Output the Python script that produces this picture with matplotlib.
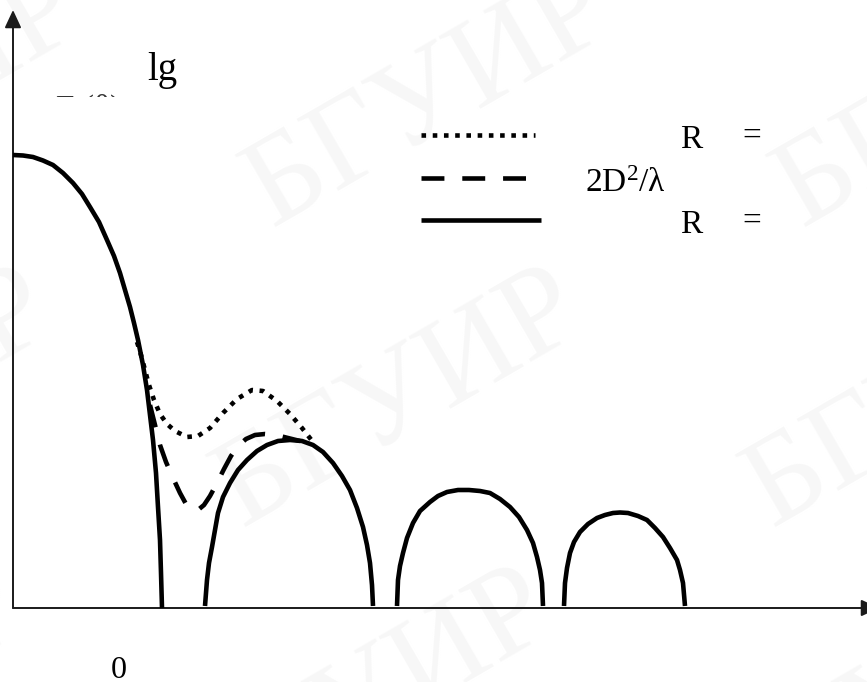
import matplotlib
matplotlib.use("Agg")
import matplotlib.pyplot as plt
from matplotlib.patches import Rectangle

plt.rcParams["font.family"] = ["Liberation Serif", "DejaVu Serif"]
plt.rcParams["mathtext.fontset"] = "custom"
plt.rcParams["mathtext.rm"] = "Liberation Serif"
plt.rcParams["mathtext.it"] = "Liberation Serif:italic"

# Radiation pattern lg F(theta) against theta, arbitrary units.
# Far zone (R = inf): main lobe and three side lobes.
main_theta = [0, 10, 20, 30, 40, 50, 60, 69, 77, 86, 94, 101, 107, 112, 117,
              121, 125, 130, 134, 137, 140, 143, 145, 147, 148, 149]
main_level = [453, 452.5, 451, 447.5, 443, 435, 425, 414, 401, 386, 368, 352,
              335, 318, 301, 285, 268, 243, 218, 193, 168, 135, 101, 68, 35, 0]

lobe1_theta = [192, 194, 196, 199, 202, 205, 210, 217, 225, 234, 244, 254, 265,
               277, 289, 300, 310, 320, 329, 337, 344, 350, 354, 357, 359, 360]
lobe1_level = [2, 28, 45, 61, 78, 95, 111, 125, 138, 148, 157, 163, 167, 168,
               167, 163, 156, 145, 132, 118, 100, 81, 63, 45, 23, 2]

lobe2_theta = [384, 385, 387, 390, 394, 400, 407, 417, 425, 434, 445, 456, 467,
               477, 487, 497, 506, 514, 520, 524, 527, 529, 530]
lobe2_level = [2, 28, 42, 55, 70, 85, 97, 106, 112, 116, 118, 118, 117, 115,
               109, 101, 91, 78, 65, 51, 38, 25, 2]

lobe3_theta = [551, 552, 554, 557, 561, 567, 575, 584, 592, 600, 607, 615, 625,
               634, 642, 650, 657, 664, 667, 670, 672]
lobe3_level = [2, 25, 40, 55, 66, 76, 84, 90, 93, 95, 95.5, 95, 92, 88, 80, 71,
               60, 48, 38, 25, 2]

# Near zone: nulls filled in, first side lobe merged with the main lobe
near_theta = [124, 128, 132, 136, 141, 147, 154, 162, 174, 185, 197, 210, 224,
              239, 250, 264, 277, 289, 300]
near_level = [266, 253, 238, 223, 208, 194, 184, 177, 171, 172, 180, 195, 209,
              218, 217, 207, 194, 180, 166]

# Intermediate zone, R = 2D^2/lambda
mid_theta = [137, 142, 147, 153, 160, 167, 173, 179, 185, 191, 197, 204, 211,
             218, 225, 233, 242, 252, 263, 275, 287]
mid_level = [203, 183, 163, 146, 130, 115, 104, 98, 98, 103, 112, 125, 139,
             152, 162, 169, 173, 174, 173, 170, 167]

legend_rows = ["R", "2D$^{2}$/λ", "R"]
x_tick_label = "0"
y_label = "lg"
y_label_sub = "F (θ)"
watermark = "БГУИР"

fig = plt.figure(figsize=(8.67, 6.82), dpi=100)
ax = fig.add_axes([0, 0, 1, 1])
ax.set_xlim(-13, 854)
ax.set_ylim(-74, 608)
ax.axis("off")

# faint background watermark
for cx, cy in [(417, 508), (-113, 508), (947, 508),
               (387, 208), (-143, 208), (917, 208),
               (357, -92), (-173, -92), (887, -92)]:
    ax.text(cx, cy, watermark, fontsize=92, color="#f7f7f7", rotation=30,
            ha="center", va="center", zorder=0)

# axes with arrow heads
arrow = dict(arrowstyle="-|>,head_length=0.9,head_width=0.42", lw=1.4,
             color="#1a1a1a", mutation_scale=12, shrinkA=0, shrinkB=0)
ax.annotate("", xy=(0, 598), xytext=(0, 0), arrowprops=arrow,
            annotation_clip=False)
ax.annotate("", xy=(866, 0), xytext=(0, 0), arrowprops=arrow,
            annotation_clip=False)

lw = 3.3
solid = dict(color="black", lw=lw, solid_capstyle="butt", solid_joinstyle="round", zorder=3)
dotted = dict(color="black", lw=lw, linestyle=(0, (1.0, 1.45)), dash_capstyle="butt", zorder=3)
dashed = dict(color="black", lw=lw, linestyle=(0, (5.0, 3.9)), dash_capstyle="butt", zorder=3)

for xs, ys in [(main_theta, main_level), (lobe1_theta, lobe1_level),
               (lobe2_theta, lobe2_level), (lobe3_theta, lobe3_level)]:
    ax.plot(xs, ys, **solid)
ax.plot(near_theta, near_level, **dotted)
ax.plot(mid_theta, mid_level, **dashed)

# key
ax.plot([408, 522], [473, 473], **dotted)
ax.plot([408, 515], [430, 430], **dashed)
ax.plot([408, 528], [388, 388], **solid)

fs = 24
ax.text(667, 460, legend_rows[0], fontsize=fs, ha="left", va="baseline")
ax.text(729, 463.5, "=", fontsize=fs, ha="left", va="baseline")
ax.text(572, 416, legend_rows[1], fontsize=fs, ha="left", va="baseline")
ax.text(667, 375, legend_rows[2], fontsize=fs, ha="left", va="baseline")
ax.text(729, 378.5, "=", fontsize=fs, ha="left", va="baseline")

# axis labels
ax.text(134, 528, y_label, fontsize=28, ha="left", va="baseline")
sub = ax.text(43, 490, y_label_sub, fontsize=24, ha="left", va="baseline",
              color="#333333", clip_on=True)
sub.set_clip_path(Rectangle((30, 511), 100, 20, transform=ax.transData))
ax.text(105.5, -70, x_tick_label, fontsize=23, ha="center", va="baseline")

fig.savefig("out.png", dpi=100)
